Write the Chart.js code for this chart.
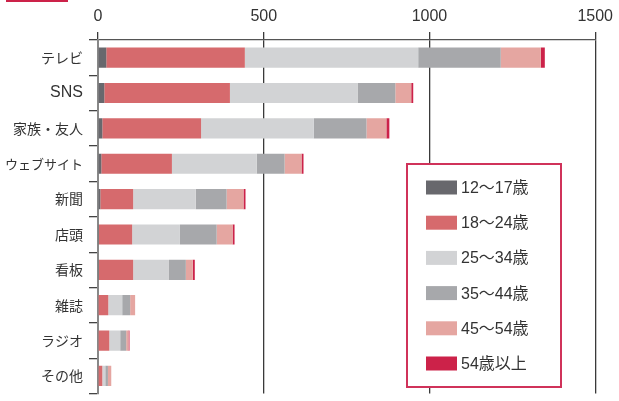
<!DOCTYPE html>
<html>
<head>
<meta charset="utf-8">
<script src="https://cdn.jsdelivr.net/npm/chart.js@4"></script>
<style>
  html, body { margin: 0; padding: 0; background: #fff; overflow: hidden; }
  #wrap { position: relative; width: 619px; height: 408px; }
  #mark { position: absolute; left: 6px; top: 0; width: 62px; height: 2px; background: #cc2249; }
</style>
</head>
<body>
<div id="wrap">
  <canvas id="grafico"></canvas>
  <div id="mark"></div>
</div>
<script>
// データ
const categorias = ['テレビ', 'SNS', '家族・友人', 'ウェブサイト', '新聞', '店頭', '看板', '雑誌', 'ラジオ', 'その他'];
const idade12a17 = [25, 19, 13, 10, 7, 3, 3, 2, 2, 2];
const idade18a24 = [418, 379, 298, 213, 99, 100, 103, 29, 32, 11];
const idade25a34 = [523, 385, 340, 256, 189, 144, 108, 42, 33, 9];
const idade35a44 = [249, 114, 159, 84, 93, 111, 51, 24, 18, 8];
const idade45a54 = [121, 48, 60, 51, 51, 48, 21, 15, 7, 10];
const idade55mais = [12, 6, 9, 6, 6, 6, 6, 0, 3, 0];
const rotulosLegenda = ['12〜17歳', '18〜24歳', '25〜34歳', '35〜44歳', '45〜54歳', '54歳以上'];
const ticksX = [0, 500, 1000, 1500];

const cores = ['#68686d', '#d66a6d', '#d2d3d5', '#a7a8ab', '#e5a6a1', '#cc2249'];
const series = [idade12a17, idade18a24, idade25a34, idade35a44, idade45a54, idade55mais];

const fonteLatina = '"Liberation Sans", Arial, "Noto Sans CJK JP", sans-serif';
const fonteJP = '"Noto Sans CJK JP", "Liberation Sans", sans-serif';

// rótulos só com letras latinas ficam um pouco maiores, os longos um pouco menores
function fonteRotulo(ctx) {
    const txt = categorias[ctx.index] || '';
    if (/^[A-Za-z]+$/.test(txt)) return { size: 16, family: fonteLatina };
    if (txt.length >= 6) return { size: 13, family: fonteJP };
    return { size: 14, family: fonteJP };
}

// legenda dentro do gráfico, com borda
const legendaCaixa = {
    id: 'legendaCaixa',
    afterDraw(chart) {
        const ctx = chart.ctx;
        ctx.save();
        ctx.fillStyle = '#fff';
        ctx.fillRect(407, 164, 154, 223);
        ctx.strokeStyle = '#d0325a';
        ctx.lineWidth = 2;
        ctx.strokeRect(407, 164, 154, 223);
        ctx.font = '16px ' + fonteLatina;
        ctx.textBaseline = 'middle';
        chart.data.datasets.forEach((ds, i) => {
            const y = 187.5 + i * 35.2;
            ctx.fillStyle = ds.backgroundColor;
            ctx.fillRect(426, y - 7, 31, 14);
            ctx.fillStyle = '#333';
            ctx.fillText(ds.label, 461, y + 1);
        });
        ctx.restore();
    }
};

new Chart(document.getElementById('grafico'), {
    type: 'bar',
    data: {
        labels: categorias,
        datasets: series.map((valores, i) => ({
            label: rotulosLegenda[i],
            data: valores,
            backgroundColor: cores[i],
            borderWidth: 0,
            barPercentage: 0.57,
            categoryPercentage: 1
        }))
    },
    options: {
        indexAxis: 'y',
        responsive: true,
        maintainAspectRatio: false,
        animation: false,
        layout: { padding: { left: 0, top: 0, right: 23, bottom: 2 } },
        plugins: {
            legend: { display: false },
            tooltip: { enabled: false }
        },
        scales: {
            x: {
                position: 'top',
                stacked: true,
                min: 0,
                max: 1500,
                afterBuildTicks: (scale) => { scale.ticks = ticksX.map(v => ({ value: v })); },
                afterFit: (scale) => { scale.height = 40; },
                ticks: {
                    color: '#333',
                    padding: 6,
                    font: { size: 16, family: fonteLatina },
                    callback: (v) => String(v)
                },
                grid: {
                    color: '#3a3a3a',
                    lineWidth: 1.3,
                    tickLength: 8
                },
                border: { color: '#555', width: 1.3 }
            },
            y: {
                stacked: true,
                offset: true,
                afterFit: (scale) => { scale.width = 98; },
                ticks: {
                    color: '#333',
                    padding: 6,
                    font: fonteRotulo
                },
                grid: {
                    offset: true,
                    drawOnChartArea: false,
                    color: '#444',
                    lineWidth: 1.3,
                    tickLength: 9
                },
                border: { color: '#888', width: 2 }
            }
        }
    },
    plugins: [legendaCaixa]
});
</script>
</body>
</html>
